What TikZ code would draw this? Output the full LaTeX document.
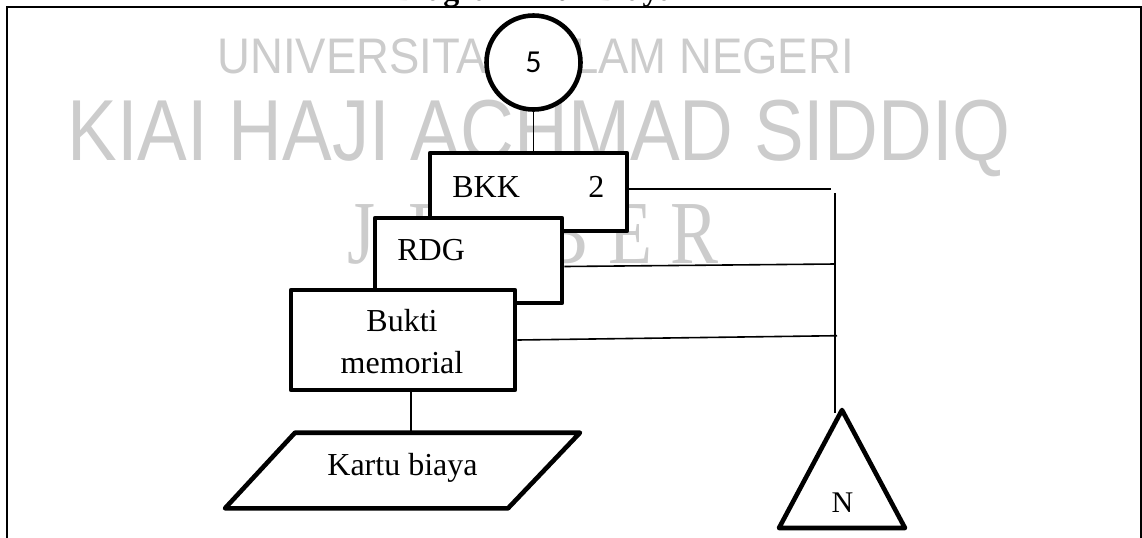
\documentclass[tikz,border=0pt]{standalone}
\usepackage{fontspec}
\usepackage{graphicx}
\setmainfont{Liberation Serif}
\newfontfamily\numfont{Carlito}
\newfontfamily\wmsans{Liberation Sans}
\newfontfamily\wmserif{Liberation Serif}

\begin{document}
\begin{tikzpicture}[x=0.5pt,y=-0.5pt,
  boxline/.style={line width=2.3pt, line join=round},
  docbox/.style={draw, boxline, fill=white, rectangle, inner sep=0pt},
  link/.style={line width=0.8pt},
  boxtext/.style={font=\fontsize{16pt}{20pt}\selectfont, inner sep=0pt},
  wm/.style={text=black!20, inner sep=0pt}]
\useasboundingbox (0,0) rectangle (1142,537);

% heading above the frame
\node[font=\bfseries\fontsize{16pt}{16pt}\selectfont, anchor=base, inner sep=0pt] (title) at (535,0.5) {Diagram Alur Biaya};

% outer frame, open at the bottom
\draw[line width=1pt] (7,545) -- (7,7) -- (1140.5,7) -- (1140.5,545);

% background watermark
\node[wm, anchor=base west] (wm1) at (217,73)
  {\wmsans\fontsize{25pt}{25pt}\selectfont\scalebox{0.91}[1]{UNIVERSITAS ISLAM NEGERI}};
\node[wm, anchor=base west] (wm2) at (67,160)
  {\wmsans\fontsize{43.3pt}{44pt}\selectfont\scalebox{0.86}[1]{KIAI HAJI ACHMAD SIDDIQ}};
\foreach \ch/\cx [count=\i] in {J/362,E/430,M/495,B/565,E/630,R/695}
  \node[wm, anchor=base] (wm3-\i) at (\cx,263)
    {\wmserif\fontsize{45pt}{45pt}\selectfont\scalebox{0.8}[1]{\ch}};

% off-page connector
\node[draw, circle, boxline, fill=white, minimum size=47pt, inner sep=0pt,
      font=\numfont\fontsize{16pt}{16pt}\selectfont] (c5) at (533.5,62.5) {5};

% stacked documents
\node[docbox, minimum width=98.5pt, minimum height=39pt] (bkk) at (528.5,192) {};
\node[boxtext, anchor=base west] (bkkt) at (452,197) {BKK};
\node[boxtext, anchor=base west] (bkkn) at (588,197) {2};

\node[docbox, minimum width=93.5pt, minimum height=42.5pt] (rdg) at (468.5,260.5) {};
\node[boxtext, anchor=base west] (rdgt) at (397,260) {RDG};

\node[docbox, minimum width=112pt, minimum height=50pt] (bukti) at (403,340) {};
\node[boxtext, anchor=base] (bukti1) at (402,331.7) {Bukti};
\node[boxtext, anchor=base] (bukti2) at (402,373) {memorial};

% ledger card
\draw[boxline, fill=white] (295,432.7) -- (580,432.7) -- (508,508.3) -- (225,508.3) -- cycle;
\node[boxtext, anchor=base] (kartu) at (402.5,475) {Kartu biaya};
\coordinate (ktop) at (410.7,432.7);

% file symbol
\coordinate (napex) at (842,410);
\draw[boxline] (napex) -- (905,528) -- (779,528) -- cycle;
\node[font=\fontsize{15pt}{15pt}\selectfont, inner sep=0pt, anchor=base] (ntext) at (842.5,512) {N};

% connectors
\draw[link] (c5.south) -- (c5.south |- bkk.north);
\draw[link] (bukti.south -| ktop) -- (ktop);

\coordinate (h1) at (831,189);
\coordinate (vtop) at (835,193);
\coordinate (vbot) at (835,413);
\draw[link] (bkk.east) ++(0,-3) -- (h1);
\draw[link] (vtop) -- (vbot);
\draw[link] (rdg.east) ++(0,6) -- (835,264);
\draw[link] (bukti.east) -- (837,335.7);
\end{tikzpicture}
\end{document}
